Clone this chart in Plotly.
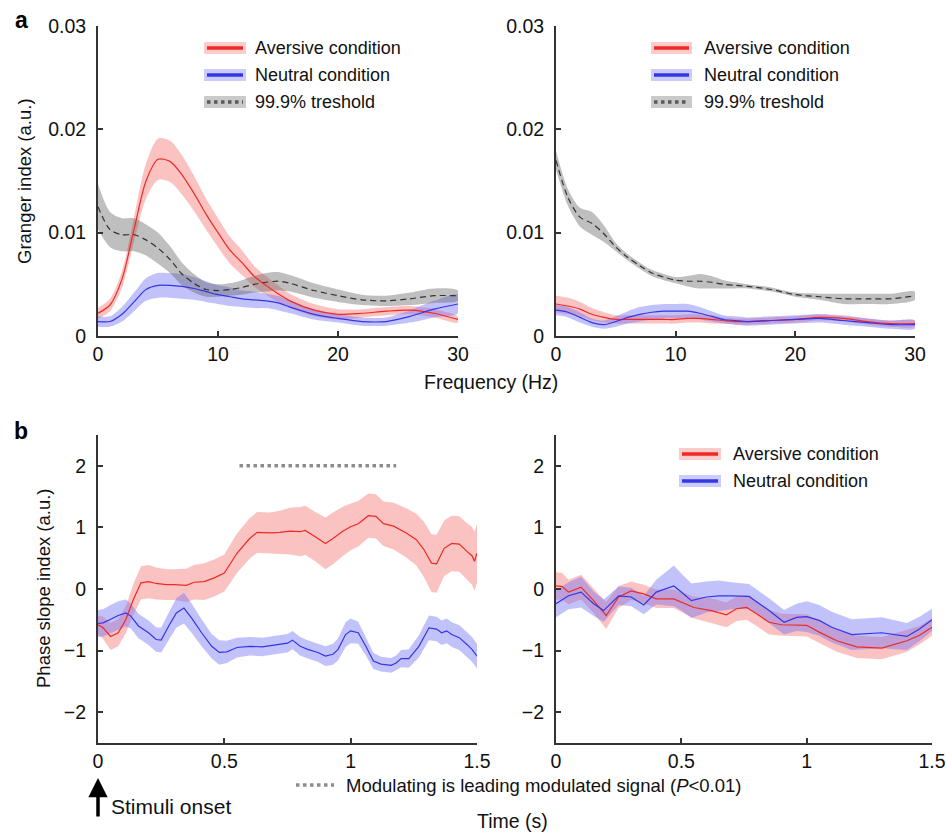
import plotly.graph_objects as go

W, H = 946, 835

# ---------------- data ----------------
freq = [0, 1, 2, 3, 4, 5, 6, 7, 8, 9, 10, 11, 12, 13, 14, 15, 16, 18, 20, 22, 24, 26, 28, 30]

# panel a, left
a1_aversive = [0.0022, 0.0030, 0.0055, 0.0103, 0.0150, 0.0171, 0.0169, 0.0156, 0.0138, 0.0118, 0.0100, 0.0083,
               0.0071, 0.0058, 0.0049, 0.0041, 0.0034, 0.0025, 0.0021, 0.0022, 0.0024, 0.0025, 0.0022, 0.0016]
a1_aversive_err = [0.0005, 0.0006, 0.0008, 0.0012, 0.0017, 0.0020, 0.0020, 0.0019, 0.0017, 0.0015, 0.0014, 0.0013,
                   0.0012, 0.0010, 0.0009, 0.0008, 0.0007, 0.0006, 0.0005, 0.0004, 0.0004, 0.0004, 0.0004, 0.0003]
a1_neutral = [0.0014, 0.0014, 0.0021, 0.0033, 0.0045, 0.0049, 0.0049, 0.0048, 0.0046, 0.0043, 0.0040, 0.0038,
              0.0036, 0.0035, 0.0034, 0.0032, 0.0028, 0.0021, 0.0017, 0.0014, 0.0014, 0.0019, 0.0026, 0.0031]
a1_neutral_err = [0.0005, 0.0005, 0.0007, 0.0009, 0.0011, 0.0012, 0.0012, 0.0012, 0.0011, 0.0010, 0.0009, 0.0009,
                  0.0008, 0.0008, 0.0007, 0.0007, 0.0006, 0.0005, 0.0004, 0.0004, 0.0004, 0.0006, 0.0008, 0.0009]
a1_threshold = [0.0125, 0.0103, 0.0098, 0.0098, 0.0093, 0.0085, 0.0074, 0.0060, 0.0051, 0.0045, 0.0044, 0.0045,
                0.0047, 0.0050, 0.0052, 0.0053, 0.0051, 0.0044, 0.0039, 0.0035, 0.0034, 0.0036, 0.0039, 0.0039]
a1_threshold_err = [0.0022, 0.0017, 0.0016, 0.0016, 0.0015, 0.0015, 0.0013, 0.0011, 0.0009, 0.0007, 0.0006, 0.0006,
                    0.0007, 0.0008, 0.0009, 0.0009, 0.0008, 0.0007, 0.0006, 0.0005, 0.0005, 0.0006, 0.0007, 0.0005]

# panel a, right
a2_aversive = [0.0031, 0.0029, 0.0026, 0.0021, 0.0018, 0.0016, 0.0016, 0.0016, 0.0016, 0.0016, 0.0016, 0.0017,
               0.0017, 0.0016, 0.0015, 0.0014, 0.0014, 0.0015, 0.0016, 0.0018, 0.0017, 0.0014, 0.0012, 0.0012]
a2_aversive_err = [0.0008, 0.0008, 0.0007, 0.0006, 0.0005, 0.0004, 0.0004, 0.0004, 0.0004, 0.0004, 0.0004, 0.0004,
                   0.0004, 0.0004, 0.0003, 0.0003, 0.0003, 0.0003, 0.0003, 0.0003, 0.0003, 0.0003, 0.0003, 0.0003]
a2_neutral = [0.0025, 0.0023, 0.0018, 0.0013, 0.0011, 0.0014, 0.0018, 0.0021, 0.0023, 0.0024, 0.0024, 0.0024,
              0.0022, 0.0019, 0.0016, 0.0015, 0.0014, 0.0015, 0.0016, 0.0017, 0.0015, 0.0013, 0.0011, 0.0011]
a2_neutral_err = [0.0005, 0.0005, 0.0005, 0.0004, 0.0004, 0.0005, 0.0006, 0.0007, 0.0007, 0.0007, 0.0007, 0.0007,
                  0.0006, 0.0005, 0.0004, 0.0004, 0.0004, 0.0004, 0.0004, 0.0004, 0.0004, 0.0004, 0.0004, 0.0004]
a2_threshold = [0.0170, 0.0134, 0.0115, 0.0109, 0.0099, 0.0086, 0.0076, 0.0068, 0.0061, 0.0057, 0.0054, 0.0053,
                0.0053, 0.0052, 0.0050, 0.0049, 0.0048, 0.0045, 0.0040, 0.0038, 0.0036, 0.0036, 0.0036, 0.0039]
a2_threshold_err = [0.0009, 0.0008, 0.0009, 0.0011, 0.0008, 0.0004, 0.0003, 0.0003, 0.0003, 0.0003, 0.0003, 0.0005,
                    0.0007, 0.0006, 0.0004, 0.0003, 0.0002, 0.0002, 0.0002, 0.0003, 0.0005, 0.0005, 0.0005, 0.0004]

# panel b, left
b1_t_aversive = [0, 0.02, 0.05, 0.08, 0.11, 0.14, 0.17, 0.2, 0.23, 0.27, 0.3, 0.35, 0.38, 0.42, 0.46, 0.5,
                 0.55, 0.6, 0.63, 0.68, 0.72, 0.76, 0.8, 0.82, 0.86, 0.9, 0.93, 0.97, 1.0, 1.03, 1.07, 1.1,
                 1.13, 1.17, 1.22, 1.26, 1.29, 1.32, 1.34, 1.37, 1.4, 1.43, 1.46, 1.48, 1.49, 1.5]
b1_aversive = [-0.58, -0.63, -0.77, -0.71, -0.50, -0.17, 0.10, 0.12, 0.09, 0.07, 0.07, 0.06, 0.11, 0.12, 0.18, 0.26,
               0.58, 0.82, 0.92, 0.91, 0.92, 0.94, 0.93, 0.95, 0.85, 0.74, 0.82, 0.94, 1.01, 1.06, 1.19, 1.18,
               1.06, 1.02, 0.91, 0.80, 0.64, 0.42, 0.41, 0.66, 0.74, 0.73, 0.61, 0.54, 0.45, 0.58]
b1_aversive_err = [0.15, 0.18, 0.22, 0.22, 0.22, 0.25, 0.27, 0.27, 0.26, 0.25, 0.25, 0.27, 0.28, 0.3, 0.3, 0.3,
                   0.32, 0.33, 0.33, 0.33, 0.35, 0.38, 0.4, 0.4, 0.4, 0.42, 0.42, 0.4, 0.38, 0.37, 0.36, 0.36,
                   0.36, 0.38, 0.4, 0.42, 0.45, 0.47, 0.47, 0.45, 0.45, 0.45, 0.46, 0.47, 0.48, 0.48]
b1_t_neutral = [0, 0.02, 0.05, 0.08, 0.11, 0.13, 0.16, 0.2, 0.23, 0.25, 0.28, 0.31, 0.34, 0.37, 0.41, 0.45,
                0.48, 0.51, 0.55, 0.6, 0.65, 0.7, 0.75, 0.77, 0.8, 0.83, 0.87, 0.9, 0.93, 0.95, 0.98, 1.0,
                1.03, 1.06, 1.09, 1.12, 1.16, 1.18, 1.2, 1.23, 1.27, 1.31, 1.34, 1.36, 1.38, 1.4, 1.43, 1.46,
                1.48, 1.5]
b1_neutral = [-0.56, -0.55, -0.49, -0.43, -0.39, -0.44, -0.60, -0.71, -0.82, -0.83, -0.60, -0.39, -0.31, -0.47,
              -0.71, -0.93, -1.03, -1.02, -0.95, -0.93, -0.94, -0.91, -0.88, -0.83, -0.93, -0.98, -1.03, -1.09,
              -1.06, -0.98, -0.74, -0.68, -0.71, -0.93, -1.17, -1.22, -1.24, -1.20, -1.13, -1.13, -0.93, -0.63,
              -0.65, -0.71, -0.68, -0.74, -0.79, -0.90, -0.98, -1.09]
b1_neutral_err = [0.22, 0.22, 0.23, 0.23, 0.22, 0.2, 0.2, 0.2, 0.2, 0.2, 0.22, 0.24, 0.25, 0.24, 0.22, 0.2,
                  0.2, 0.18, 0.16, 0.15, 0.15, 0.15, 0.15, 0.15, 0.15, 0.15, 0.15, 0.16, 0.17, 0.18, 0.2, 0.2,
                  0.18, 0.15, 0.13, 0.12, 0.12, 0.12, 0.14, 0.15, 0.18, 0.2, 0.2, 0.2, 0.2, 0.2, 0.2, 0.2,
                  0.2, 0.2]

# panel b, right
b2_t_aversive = [0, 0.025, 0.05, 0.1, 0.15, 0.2, 0.25, 0.3, 0.35, 0.4, 0.47, 0.55, 0.62, 0.68, 0.72, 0.76,
                 0.8, 0.85, 0.9, 1.0, 1.05, 1.12, 1.2, 1.3, 1.4, 1.45, 1.5]
b2_aversive = [0.05, 0.04, -0.05, 0.03, -0.19, -0.43, -0.13, -0.03, -0.08, -0.16, -0.16, -0.30, -0.35, -0.42,
               -0.32, -0.30, -0.40, -0.54, -0.58, -0.59, -0.70, -0.84, -0.94, -0.96, -0.84, -0.75, -0.62]
b2_aversive_err = [0.22, 0.22, 0.2, 0.2, 0.2, 0.22, 0.18, 0.15, 0.15, 0.15, 0.15, 0.18, 0.2, 0.2, 0.2, 0.2,
                   0.2, 0.2, 0.18, 0.18, 0.18, 0.18, 0.18, 0.18, 0.18, 0.15, 0.14]
b2_t_neutral = [0, 0.05, 0.1, 0.15, 0.19, 0.25, 0.3, 0.35, 0.4, 0.47, 0.5, 0.54, 0.6, 0.65, 0.7, 0.77,
                0.85, 0.91, 0.96, 1.0, 1.05, 1.1, 1.18, 1.3, 1.4, 1.45, 1.5]
b2_neutral = [-0.24, -0.11, -0.05, -0.24, -0.35, -0.11, -0.13, -0.26, -0.05, 0.05, -0.05, -0.19, -0.13, -0.11,
              -0.11, -0.12, -0.35, -0.54, -0.46, -0.45, -0.51, -0.62, -0.74, -0.71, -0.77, -0.65, -0.50]
b2_neutral_err = [0.22, 0.22, 0.25, 0.2, 0.18, 0.15, 0.15, 0.15, 0.2, 0.33, 0.3, 0.28, 0.25, 0.25, 0.22, 0.2,
                  0.2, 0.2, 0.22, 0.25, 0.25, 0.25, 0.25, 0.25, 0.22, 0.2, 0.18]

sig_span = [0.56, 1.18]
sig_level = 2

legend_labels = ["Aversive condition", "Neutral condition", "99.9% treshold"]

# ---------------- style ----------------
FONT = "Liberation Sans, Arial, Helvetica, sans-serif"
RED = "#ee2a24"
BLUE = "#3535e6"
RED_BAND = "rgba(245,110,110,0.42)"
BLUE_BAND = "rgba(110,110,245,0.42)"
GRAY_BAND = "rgba(95,95,95,0.40)"
AX = "#333333"


def px(x):
    return x / W


def py(y):
    return 1 - y / H


fig = go.Figure()


def band(x, m, e, color, xa, ya, spline):
    up = [a + b for a, b in zip(m, e)]
    lo = [a - b for a, b in zip(m, e)]
    fig.add_trace(go.Scatter(x=list(x) + list(x)[::-1], y=up + lo[::-1], fill="toself",
                             fillcolor=color, line=dict(width=0, shape="spline" if spline else "linear",
                                                        smoothing=0.8),
                             mode="lines", hoverinfo="skip", showlegend=False, xaxis=xa, yaxis=ya))


def mean_line(x, m, color, xa, ya, spline, dash=None, width=1.2):
    fig.add_trace(go.Scatter(x=x, y=m, mode="lines",
                             line=dict(color=color, width=width, dash=dash,
                                       shape="spline" if spline else "linear", smoothing=0.8),
                             showlegend=False, xaxis=xa, yaxis=ya))


# panel a left
band(freq, a1_aversive, a1_aversive_err, RED_BAND, "x", "y", True)
band(freq, a1_neutral, a1_neutral_err, BLUE_BAND, "x", "y", True)
band(freq, a1_threshold, a1_threshold_err, GRAY_BAND, "x", "y", True)
mean_line(freq, a1_aversive, RED, "x", "y", True)
mean_line(freq, a1_neutral, BLUE, "x", "y", True)
mean_line(freq, a1_threshold, "#333333", "x", "y", True, dash="6px,4px")

# panel a right
band(freq, a2_aversive, a2_aversive_err, RED_BAND, "x2", "y2", True)
band(freq, a2_neutral, a2_neutral_err, BLUE_BAND, "x2", "y2", True)
band(freq, a2_threshold, a2_threshold_err, GRAY_BAND, "x2", "y2", True)
mean_line(freq, a2_aversive, RED, "x2", "y2", True)
mean_line(freq, a2_neutral, BLUE, "x2", "y2", True)
mean_line(freq, a2_threshold, "#333333", "x2", "y2", True, dash="6px,4px")

# panel b left
band(b1_t_aversive, b1_aversive, b1_aversive_err, RED_BAND, "x3", "y3", False)
band(b1_t_neutral, b1_neutral, b1_neutral_err, BLUE_BAND, "x3", "y3", False)
mean_line(b1_t_aversive, b1_aversive, RED, "x3", "y3", False)
mean_line(b1_t_neutral, b1_neutral, BLUE, "x3", "y3", False)
fig.add_trace(go.Scatter(x=sig_span, y=[sig_level, sig_level], mode="lines",
                         line=dict(color="#8c8c8c", width=3.5, dash="3.5px,3.5px"),
                         showlegend=False, xaxis="x3", yaxis="y3"))

# panel b right
band(b2_t_aversive, b2_aversive, b2_aversive_err, RED_BAND, "x4", "y4", False)
band(b2_t_neutral, b2_neutral, b2_neutral_err, BLUE_BAND, "x4", "y4", False)
mean_line(b2_t_aversive, b2_aversive, RED, "x4", "y4", False)
mean_line(b2_t_neutral, b2_neutral, BLUE, "x4", "y4", False)

# ---------------- axes ----------------
base = dict(showline=True, linecolor=AX, linewidth=2, ticks="inside", ticklen=5, tickwidth=1.5,
            tickcolor=AX, showgrid=False, zeroline=False, automargin=False,
            tickfont=dict(family=FONT, size=19.5, color="#111"))
xax = dict(base, ticklabelstandoff=0)
yax = dict(base, ticklabelstandoff=6)

top_y = [py(336), py(26)]
bot_y = [py(743), py(435)]

fig.update_layout(
    width=W, height=H, margin=dict(l=0, r=0, t=0, b=0),
    paper_bgcolor="white", plot_bgcolor="white",
    xaxis=dict(domain=[px(98), px(458)], range=[0, 30], anchor="y",
               tickvals=[0, 10, 20, 30], ticktext=["0", "10", "20", "30"], **xax),
    yaxis=dict(domain=top_y, range=[0, 0.03], anchor="x",
               tickvals=[0, 0.01, 0.02, 0.03], ticktext=["0", "0.01", "0.02", "0.03"], **yax),
    xaxis2=dict(domain=[px(556), px(915)], range=[0, 30], anchor="y2",
                tickvals=[0, 10, 20, 30], ticktext=["0", "10", "20", "30"], **xax),
    yaxis2=dict(domain=top_y, range=[0, 0.03], anchor="x2",
                tickvals=[0, 0.01, 0.02, 0.03], ticktext=["0", "0.01", "0.02", "0.03"], **yax),
    xaxis3=dict(domain=[px(98), px(477)], range=[0, 1.5], anchor="y3",
                tickvals=[0, 0.5, 1, 1.5], ticktext=["0", "0.5", "1", "1.5"], **xax),
    yaxis3=dict(domain=bot_y, range=[-2.5, 2.5], anchor="x3",
                tickvals=[-2, -1, 0, 1, 2], ticktext=["\u22122", "\u22121", "0", "1", "2"], **yax),
    xaxis4=dict(domain=[px(556), px(932)], range=[0, 1.5], anchor="y4",
                tickvals=[0, 0.5, 1, 1.5], ticktext=["0", "0.5", "1", "1.5"], **xax),
    yaxis4=dict(domain=bot_y, range=[-2.5, 2.5], anchor="x4",
                tickvals=[-2, -1, 0, 1, 2], ticktext=["\u22122", "\u22121", "0", "1", "2"], **yax),
)

# ---------------- manual legends & annotations ----------------
shapes = []
annotations = []


def legend_item(x0, x1, yc, text_x, label, line_color, band_color, dotted=False):
    shapes.append(dict(type="rect", xref="paper", yref="paper", x0=px(x0), x1=px(x1),
                       y0=py(yc + 6), y1=py(yc - 6), fillcolor=band_color, line=dict(width=0), layer="above"))
    shapes.append(dict(type="line", xref="paper", yref="paper", x0=px(x0 + 3), x1=px(x1 - 3),
                       y0=py(yc), y1=py(yc),
                       line=dict(color=line_color, width=3.5,
                                 dash="3.5px,3.5px" if dotted else "solid"), layer="above"))
    annotations.append(dict(xref="paper", yref="paper", x=px(text_x), y=py(yc), text=label,
                            showarrow=False, xanchor="left", yanchor="middle",
                            font=dict(family=FONT, size=18, color="#111")))


# legend a left
legend_item(204, 246, 48, 253, legend_labels[0], RED, "rgba(245,110,110,0.35)")
legend_item(204, 246, 75, 253, legend_labels[1], BLUE, "rgba(110,110,245,0.35)")
legend_item(204, 246, 102, 253, legend_labels[2], "#5a5a5a", "rgba(95,95,95,0.33)", dotted=True)
# legend a right
legend_item(651, 692, 48, 702, legend_labels[0], RED, "rgba(245,110,110,0.35)")
legend_item(651, 692, 75, 702, legend_labels[1], BLUE, "rgba(110,110,245,0.35)")
legend_item(651, 692, 102, 702, legend_labels[2], "#5a5a5a", "rgba(95,95,95,0.33)", dotted=True)
# legend b right
legend_item(679, 721, 454, 731, legend_labels[0], RED, "rgba(245,110,110,0.35)")
legend_item(679, 721, 481, 731, legend_labels[1], BLUE, "rgba(110,110,245,0.35)")

# significance legend
shapes.append(dict(type="line", xref="paper", yref="paper", x0=px(296), x1=px(334), y0=py(785), y1=py(785),
                   line=dict(color="#8c8c8c", width=3.5, dash="3.5px,3.5px")))
annotations.append(dict(xref="paper", yref="paper", x=px(344), y=py(785),
                        text="Modulating is leading modulated signal (<i>P</i><0.01)",
                        showarrow=False, xanchor="left", yanchor="middle",
                        font=dict(family=FONT, size=18.5, color="#111")))

# axis titles
annotations.append(dict(xref="paper", yref="paper", x=px(491), y=py(382), text="Frequency (Hz)",
                        showarrow=False, xanchor="center", yanchor="middle",
                        font=dict(family=FONT, size=19.5, color="#111")))
annotations.append(dict(xref="paper", yref="paper", x=px(512), y=py(821), text="Time (s)",
                        showarrow=False, xanchor="center", yanchor="middle",
                        font=dict(family=FONT, size=19.5, color="#111")))
annotations.append(dict(xref="paper", yref="paper", x=px(25), y=py(181), text="Granger index (a.u.)",
                        showarrow=False, xanchor="center", yanchor="middle", textangle=-90,
                        font=dict(family=FONT, size=18.5, color="#111")))
annotations.append(dict(xref="paper", yref="paper", x=px(43), y=py(588), text="Phase slope index (a.u.)",
                        showarrow=False, xanchor="center", yanchor="middle", textangle=-90,
                        font=dict(family=FONT, size=18.5, color="#111")))

# panel letters
annotations.append(dict(xref="paper", yref="paper", x=px(21), y=py(20), text="<b>a</b>",
                        showarrow=False, xanchor="center", yanchor="middle",
                        font=dict(family=FONT, size=23, color="#000")))
annotations.append(dict(xref="paper", yref="paper", x=px(21), y=py(431), text="<b>b</b>",
                        showarrow=False, xanchor="center", yanchor="middle",
                        font=dict(family=FONT, size=23, color="#000")))

# stimuli onset arrow
annotations.append(dict(xref="paper", yref="paper", x=px(98), y=py(778), ax=0, ay=40, text="",
                        showarrow=True, arrowhead=2, arrowsize=1.1, arrowwidth=3.5, arrowcolor="#000"))
annotations.append(dict(xref="paper", yref="paper", x=px(109), y=py(806), text="Stimuli onset",
                        showarrow=False, xanchor="left", yanchor="middle",
                        font=dict(family=FONT, size=21, color="#111")))

fig.update_layout(shapes=shapes, annotations=annotations)

fig.write_html("out.html", config={"displayModeBar": False},
               post_script="document.body.style.margin='0px';document.body.style.overflow='hidden';")
